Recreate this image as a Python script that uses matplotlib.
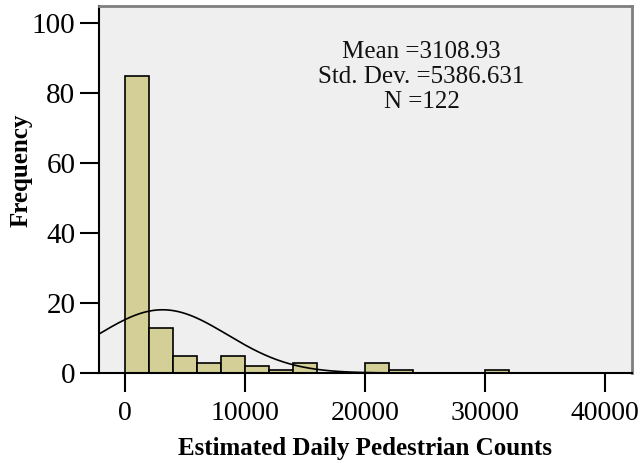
import numpy as np
import matplotlib
matplotlib.use('Agg')
import matplotlib.pyplot as plt

# histogram of estimated daily pedestrian counts (bin width 2000)
bin_edges = [0, 2000, 4000, 6000, 8000, 10000, 12000, 14000, 16000, 18000,
             20000, 22000, 24000, 26000, 28000, 30000, 32000]
counts = [85, 13, 5, 3, 5, 2, 1, 3, 0, 0, 3, 1, 0, 0, 0, 1]
mean_val = 3108.93
std_val = 5386.631
n_obs = 122
x_ticks = [0, 10000, 20000, 30000, 40000]
y_ticks = [0, 20, 40, 60, 80, 100]

plt.rcParams['font.family'] = ['Liberation Serif', 'DejaVu Serif']

fig = plt.figure(figsize=(6.39, 4.65), dpi=100)
ax = fig.add_axes([99 / 639, 1 - 373 / 465, (632 - 99) / 639, (373 - 6) / 465])
ax.set_facecolor('#efefef')

widths = np.diff(bin_edges)
ax.bar(bin_edges[:-1], counts, width=widths, align='edge',
       color='#d3cf97', edgecolor='black', linewidth=1.2, zorder=2)

# normal curve scaled to the histogram
xs = np.linspace(-2200, 42300, 600)
bw = widths[0]
ys = n_obs * bw / (std_val * np.sqrt(2 * np.pi)) * \
    np.exp(-0.5 * ((xs - mean_val) / std_val) ** 2)
ax.plot(xs, ys, color='black', linewidth=1.2, zorder=3)

ax.set_xlim(-2190, 42220)
ax.set_ylim(0, 104.9)
ax.set_xticks(x_ticks)
ax.set_yticks(y_ticks)
ax.tick_params(axis='both', direction='out', length=14, width=1.5,
               labelsize=21, pad=3)
ax.tick_params(axis='x', pad=6, labelsize=20)

for side in ['left', 'bottom']:
    ax.spines[side].set_color('black')
    ax.spines[side].set_linewidth(1.5)
for side in ['top', 'right']:
    ax.spines[side].set_color('#7f7f7f')
    ax.spines[side].set_linewidth(2)

ax.set_xlabel('Estimated Daily Pedestrian Counts', fontsize=18,
              fontweight='bold', labelpad=8)
ax.set_ylabel('Frequency', fontsize=18, fontweight='bold')
ax.yaxis.set_label_coords(-0.124, 0.553)

ax.text(0.605, 0.905, 'Mean =%.2f\nStd. Dev. =%.3f\nN =%d' % (mean_val, std_val, n_obs),
        transform=ax.transAxes, ha='center', va='top', fontsize=18,
        linespacing=1.18, color='#111111')

plt.savefig('out.png', dpi=100)
